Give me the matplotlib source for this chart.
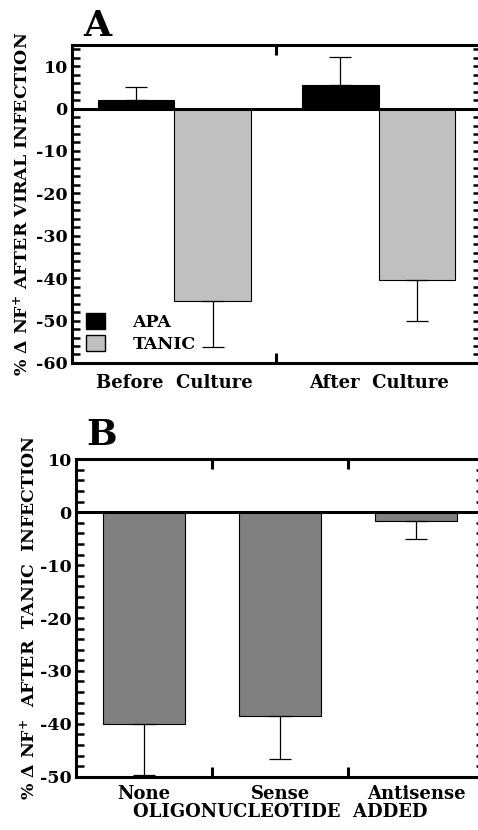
import numpy as np
import matplotlib.pyplot as plt
from matplotlib.patches import Patch

plt.rcParams['font.family'] = 'DejaVu Serif'
plt.rcParams['font.weight'] = 'bold'
plt.rcParams['axes.labelweight'] = 'bold'
plt.rcParams['axes.unicode_minus'] = False
plt.rcParams['mathtext.fontset'] = 'dejavuserif'
plt.rcParams['mathtext.default'] = 'bf'

# panel A data
groups_a = ['Before  Culture', 'After  Culture']
apa = [2.0, 5.6]
apa_err = [3.0, 6.6]
tanic = [-45.5, -40.5]
tanic_err = [10.7, 9.7]

# panel B data
groups_b = ['None', 'Sense', 'Antisense']
oligo = [-40.0, -38.5, -1.7]
oligo_err = [9.6, 8.1, 3.4]

fig = plt.figure(figsize=(4.78, 8.3), dpi=100)
axA = fig.add_axes([0.1506, 0.5627, 0.8556, 0.3831])
axB = fig.add_axes([0.159, 0.0642, 0.8536, 0.3824])

def style_axes(ax, ylo, yhi, ncat):
    ax.set_xlim(0, ncat)
    ax.set_ylim(ylo, yhi)
    for s in ax.spines.values():
        s.set_linewidth(2.2)
    ax.axhline(0, color='black', lw=2.2, zorder=5)
    ax.set_yticks(np.arange(ylo, yhi + 1, 10))
    ax.set_yticks(np.arange(ylo, yhi + 1, 2), minor=True)
    ax.tick_params(axis='y', which='both', direction='in', right=True, width=1.8, length=6, labelsize=12.5, pad=3)
    ax.set_xticks(np.arange(1, ncat))
    ax.set_xticklabels([])
    ax.tick_params(axis='x', which='major', direction='in', top=True, width=2.2, length=7)

# panel A
xa = np.arange(len(groups_a)) + 0.5
w = 0.375
axA.bar(xa - w / 2, apa, w, color='black', edgecolor='black', lw=0.8,
        yerr=[np.zeros(2), apa_err], capsize=8, error_kw=dict(lw=0.9, capthick=0.9), zorder=3)
axA.bar(xa + w / 2, tanic, w, color='#c0c0c0', edgecolor='black', lw=0.8,
        yerr=[tanic_err, np.zeros(2)], capsize=8, error_kw=dict(lw=0.9, capthick=0.9), zorder=3)
style_axes(axA, -60, 15, 2)
axA.set_yticks(np.arange(-60, 11, 10))
axA.set_xticks(xa, minor=True)
axA.set_xticklabels(groups_a, minor=True, fontsize=13)
axA.tick_params(axis='x', which='minor', length=0, pad=8)
axA.set_ylabel('% Δ NF$^{+}$ AFTER VIRAL INFECTION', fontsize=12.5, labelpad=3)
axA.legend(handles=[Patch(facecolor='black', edgecolor='black'),
                    Patch(facecolor='#c0c0c0', edgecolor='black')],
           labels=['APA', 'TANIC'], loc='lower left', bbox_to_anchor=(0.014, 0.005),
           borderpad=0, frameon=False, fontsize=12.5, handlelength=1.05, handleheight=1.05,
           handletextpad=1.6, labelspacing=0.2)
fig.text(0.175, 0.969, 'A', fontsize=26, ha='left', va='center')

# panel B
xb = np.arange(len(groups_b)) + 0.5
axB.bar(xb, oligo, 0.6, color='#808080', edgecolor='black', lw=0.8,
        yerr=[oligo_err, np.zeros(3)], capsize=8, error_kw=dict(lw=0.9, capthick=0.9), zorder=3)
style_axes(axB, -50, 10, 3)
axB.set_xticks(xb, minor=True)
axB.set_xticklabels(groups_b, minor=True, fontsize=13)
axB.tick_params(axis='x', which='minor', length=0, pad=6)
axB.set_xlabel('OLIGONUCLEOTIDE  ADDED', fontsize=13, labelpad=0)
axB.set_ylabel('% Δ NF$^{+}$  AFTER  TANIC  INFECTION', fontsize=12.5, labelpad=1)
fig.text(0.18, 0.476, 'B', fontsize=26, ha='left', va='center')

fig.savefig('out.png', dpi=100)
